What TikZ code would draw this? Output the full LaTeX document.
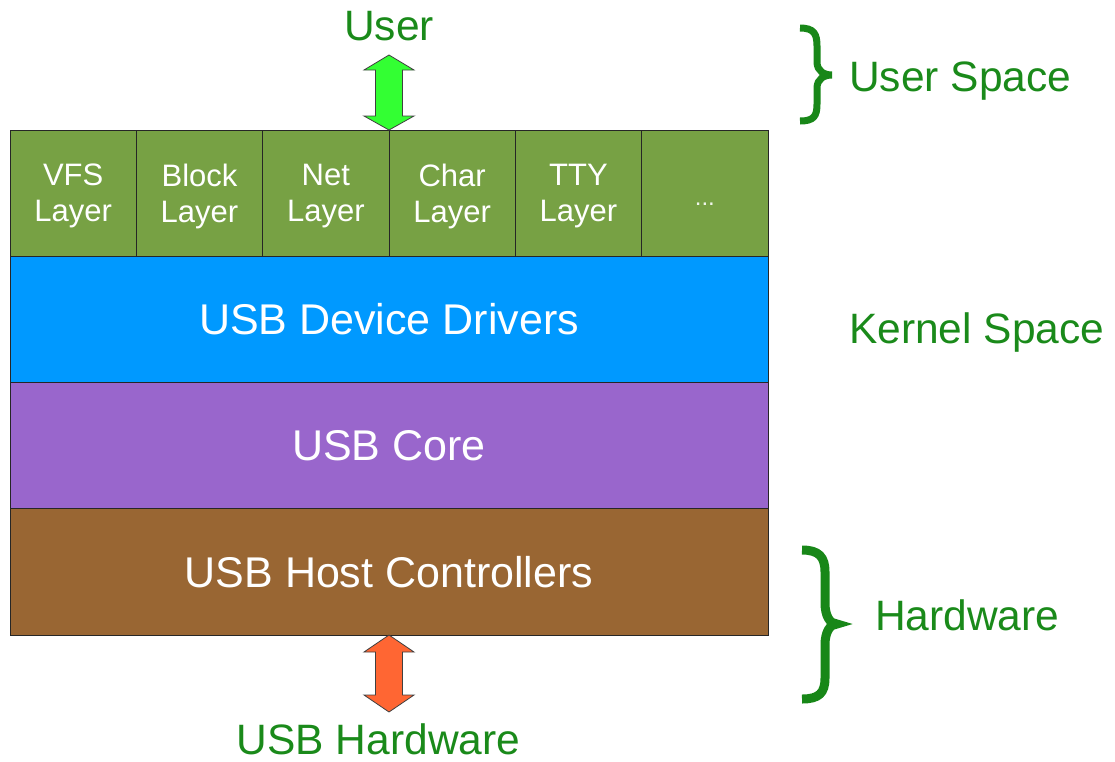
\documentclass[tikz,border=0pt]{standalone}
\usepackage{fontspec}
\setmainfont{Liberation Sans}
\definecolor{layergreen}{RGB}{119,161,68}
\definecolor{drvblue}{RGB}{0,153,255}
\definecolor{corepurple}{RGB}{153,102,204}
\definecolor{hostbrown}{RGB}{153,102,51}
\definecolor{labelgreen}{RGB}{26,138,26}
\definecolor{bracegreen}{RGB}{24,135,24}
\definecolor{userarrow}{RGB}{51,255,51}
\definecolor{hwarrow}{RGB}{255,102,51}
\begin{document}
\begin{tikzpicture}[x=1pt,y=-1pt,
  layerbox/.style={draw=black!85, line width=0.9pt, fill=layergreen,
    minimum width=126.33pt, minimum height=126pt, inner sep=0pt},
  layertext/.style={text=white, inner sep=0pt, align=center,
    font=\fontsize{31}{36}\selectfont},
  band/.style={draw=black!85, line width=0.9pt, fill=#1, text=white,
    minimum width=758pt, minimum height=126.5pt, inner sep=0pt,
    font=\fontsize{43}{48}\selectfont},
  sidelabel/.style={text=labelgreen, inner sep=0pt, font=\fontsize{42.5}{48}\selectfont},
  bracepath/.style={draw=bracegreen, line width=#1},
  arrowshape/.style={fill=#1, draw=black!75, line width=0.8pt, line join=miter}]
\useasboundingbox (0,0) rectangle (1115,761);

% stacked kernel bands
\node[band=drvblue]    (drivers) at (389,319.5) {USB Device Drivers};
\node[band=corepurple] (core)    at (389,446)   {USB Core};
\node[band=hostbrown]  (host)    at (389,572)   {USB Host Controllers};

% row of subsystem layers
\node[layerbox] (vfs)   at (73.17,193)  {};
\node[layerbox] (block) at (199.5,193)  {};
\node[layerbox] (net)   at (325.83,193) {};
\node[layerbox] (char)  at (452.17,193) {};
\node[layerbox] (tty)   at (578.5,193)  {};
\node[layerbox] (more)  at (704.83,193) {};
\node[layertext] at ([yshift=-3pt]vfs.center)   {VFS\\Layer};
\node[layertext] at ([yshift=-3pt]block.center) {Block\\Layer};
\node[layertext] at ([yshift=-3pt]net.center)   {Net\\Layer};
\node[layertext] at ([yshift=-3pt]char.center)  {Char\\Layer};
\node[layertext] at ([yshift=-3pt]tty.center)   {TTY\\Layer};
\node[layertext, anchor=base, text=white!90!layergreen, font=\fontsize{24}{28}\selectfont]
  at ([yshift=-12pt]more.center) {...};

% labels
\node[sidelabel, anchor=base] (user) at (389,40) {User};
\node[sidelabel, anchor=base] (usbhw) at (378.5,754) {USB Hardware};
\node[sidelabel, anchor=base west] (userspace) at (849,91) {User Space};
\node[sidelabel, anchor=base west] (kernelspace) at (849,343) {Kernel Space};
\node[sidelabel, anchor=base west] (hardware) at (875,630) {Hardware};

% double arrows
\coordinate (ua) at (389,92.5);
\path[arrowshape=userarrow]
  (ua) +(0,-37.5) -- +(25,-22.5) -- +(13.5,-22.5) -- +(13.5,23.5) -- +(25,23.5)
  -- +(0,37.5) -- +(-25,23.5) -- +(-13.5,23.5) -- +(-13.5,-22.5) -- +(-25,-22.5) -- cycle;
\coordinate (ha) at (389,673.5);
\path[arrowshape=hwarrow]
  (ha) +(0,-38.5) -- +(25,-21.5) -- +(13.5,-21.5) -- +(13.5,21.5) -- +(25,21.5)
  -- +(0,38.5) -- +(-25,21.5) -- +(-13.5,21.5) -- +(-13.5,-21.5) -- +(-25,-21.5) -- cycle;

% braces
\draw[bracepath=7pt] (800,28) .. controls (814,28) and (817,34) .. (817,46) -- (817,62)
  .. controls (817,71) and (824,75) .. (832,75)
  .. controls (824,75) and (817,79) .. (817,88) -- (817,104)
  .. controls (817,116) and (814,121) .. (800,121);
\draw[bracepath=9pt] (802,550) .. controls (819,550) and (825,557) .. (825,572) -- (825,603)
  .. controls (825,616) and (830,624) .. (837,624)
  .. controls (830,624) and (825,632) .. (825,645) -- (825,678)
  .. controls (825,693) and (819,699) .. (802,699);
\end{tikzpicture}
\end{document}
